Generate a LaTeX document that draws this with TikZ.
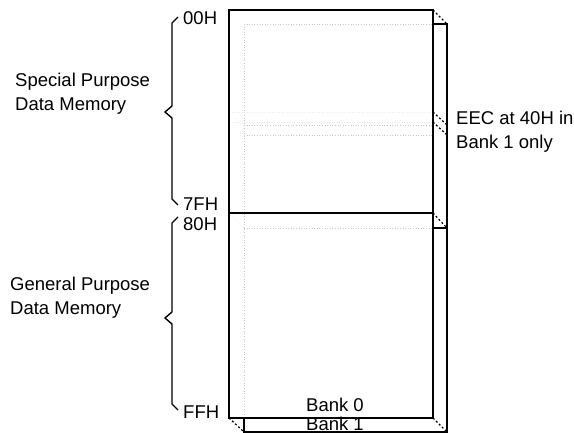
\documentclass[tikz,border=0pt]{standalone}
\usepackage{fontspec}
\setmainfont{Liberation Sans}
\begin{document}
\begin{tikzpicture}[x=1pt,y=-1pt,
  solidline/.style={line width=1.5pt,black},
  hidden/.style={line width=0.6pt,gray!45,dotted},
  faint/.style={line width=0.5pt,gray!15,dotted},
  depth/.style={line width=1.2pt,black,dash pattern=on 2pt off 2.2pt},
  brace/.style={line width=1.4pt,black,line join=miter},
  lbl/.style={inner sep=0pt,font=\fontsize{18.5}{23.5}\selectfont,align=left},
]
\useasboundingbox (0,0) rectangle (574,433);
% corner coordinates
\coordinate (FTL) at (229,10);  \coordinate (FTR) at (433,10);
\coordinate (FML) at (229,213); \coordinate (FMR) at (433,213);
\coordinate (FBL) at (229,418); \coordinate (FBR) at (433,418);
\coordinate (BTL) at (244,24);  \coordinate (BTR) at (447,24);
\coordinate (BML) at (244,228); \coordinate (BMR) at (447,228);
\coordinate (BBL) at (244,432); \coordinate (BBR) at (447,432);
% hidden lines of the back bank
\draw[hidden] (BTL) -- (433,24);
\draw[hidden] (BTL) -- (244,418);
\draw[hidden] (BML) -- (433,228);
\draw[hidden] (244,125) -- (433,125);
\draw[hidden] (244,135) -- (433,135);
\draw[faint] (FTL) -- (BTL);
\draw[faint] (FML) -- (BML);
\draw[faint] (229,112) -- (433,112);
\draw[faint] (229,122) -- (433,122);
\draw[faint] (229,112) -- (244,125);
\draw[faint] (229,122) -- (244,135);
% visible back parts
\draw[solidline] (433,24) -- (BTR) -- (BBR) -- (BBL) -- (244,418);
\draw[solidline] (433,228) -- (BMR);
% depth edges
\draw[depth] (FTR) -- (BTR);
\draw[depth] (FMR) -- (BMR);
\draw[depth] (FBR) -- (BBR);
\draw[depth] (FBL) -- (BBL);
\draw[depth] (433,112) -- (447,125);
\draw[depth] (433,122) -- (447,135);
% front bank
\draw[solidline] (FTL) rectangle (FBR);
\draw[solidline] (FML) -- (FMR);
% braces
\draw[brace] (178,17) -- (172,23) -- (172,106) -- (165,112) -- (172,118) -- (172,199) -- (178,205);
\draw[brace] (178,217) -- (172,223) -- (172,312) -- (165,318) -- (172,324) -- (172,404) -- (178,410);
% labels
\node[lbl,anchor=west] (a00) at (183,18) {00H};
\node[lbl,anchor=west] (a7f) at (183,204) {7FH};
\node[lbl,anchor=west] (a80) at (183,224) {80H};
\node[lbl,anchor=west] (aff) at (183,412) {FFH};
\node[lbl,anchor=north west] (spd) at (15,73) {Special Purpose\\Data Memory};
\node[lbl,anchor=north west] (gpd) at (10,277) {General Purpose\\Data Memory};
\node[lbl,anchor=north west] (eec) at (456,111) {EEC at 40H in\\Bank 1 only};
\node[lbl] (b0) at (335,405) {Bank 0};
\node[lbl] (b1) at (335,423.5) {Bank 1};
\end{tikzpicture}
\end{document}
